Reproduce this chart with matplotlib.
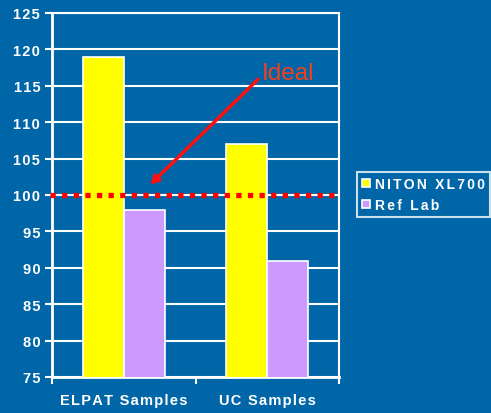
import matplotlib
matplotlib.use("Agg")
import matplotlib.pyplot as plt
from matplotlib.patches import Patch

categories = ["ELPAT Samples", "UC Samples"]
series_names = ["NITON XL700", "Ref Lab"]
niton = [119, 107]
ref_lab = [98, 91]
ideal = 100
y_ticks = [75, 80, 85, 90, 95, 100, 105, 110, 115, 120, 125]

BG = "#0066A8"
YELLOW = "#FFFF00"
PURPLE = "#CC99FF"
FAM = ["Liberation Sans", "DejaVu Sans"]


def spaced(s, sep="\u200a"):
    return sep.join(s)


fig = plt.figure(figsize=(4.91, 4.14), dpi=100, facecolor=BG)
ax = fig.add_axes([52 / 491, 1 - 378 / 414, 287 / 491, 364 / 414], facecolor=BG)

w = 2 / 7
centers = [0.5, 1.5]
ax.bar([c - w / 2 for c in centers], niton, width=w, bottom=0, color=YELLOW,
       edgecolor="white", linewidth=1.2, zorder=3)
ax.bar([c + w / 2 for c in centers], ref_lab, width=w, bottom=0, color=PURPLE,
       edgecolor="white", linewidth=1.2, zorder=3)

ax.set_xlim(0, 2)
ax.set_ylim(75, 125)
ax.set_yticks(y_ticks)
ax.set_yticklabels([spaced(str(v)) for v in y_ticks], color="white",
                   fontsize=10.5, fontweight="bold", family=FAM)
ax.set_xticks([0, 1, 2])
ax.set_xticklabels([])
ax.tick_params(axis="both", colors="white", width=1.5, length=5, direction="out")
for c, lab in zip(centers, categories):
    ax.text(c, -0.045, spaced(lab), transform=ax.get_xaxis_transform(),
            ha="center", va="top", color="white", fontsize=10.5,
            fontweight="bold", family=FAM)

ax.yaxis.grid(True, color="white", linewidth=1.5, zorder=0)
ax.set_axisbelow(True)
for side, sp in ax.spines.items():
    sp.set_color("white")
    sp.set_linewidth(1.5)
ax.spines["left"].set_linewidth(2)
ax.spines["bottom"].set_linewidth(2)

# reference line at the ideal value
ax.plot([-0.015, 2], [ideal, ideal], color="#FF0000", linewidth=3.8,
        dashes=(1, 1.2), dash_capstyle="butt", clip_on=False, zorder=5)

ax.annotate("", xy=(0.683, 101.4), xytext=(1.436, 115.9),
            arrowprops=dict(arrowstyle="-|>", color="#FF1010", lw=2.5,
                            mutation_scale=12, shrinkA=0, shrinkB=0),
            zorder=6)
ax.text(1.463, 116.8, "Ideal", color="#F2401E", fontsize=17.5, ha="left",
        va="center", family=FAM, zorder=6)

handles = [Patch(facecolor=YELLOW, edgecolor="white", linewidth=1.2),
           Patch(facecolor=PURPLE, edgecolor="white", linewidth=1.2)]
leg = fig.legend(handles, [spaced(n, "\u200a\u200a") for n in series_names],
                 loc="upper left", bbox_to_anchor=(357 / 491, 1 - 173 / 414),
                 frameon=True, fancybox=False, facecolor=BG, edgecolor="white",
                 handlelength=0.6, handleheight=0.6, handletextpad=0.35,
                 borderpad=0.35, labelspacing=0.5, borderaxespad=0,
                 prop=dict(family=FAM, weight="bold", size=10))
leg.get_frame().set_linewidth(1.5)
for t in leg.get_texts():
    t.set_color("white")

fig.savefig("out.png", dpi=100, facecolor=BG)
